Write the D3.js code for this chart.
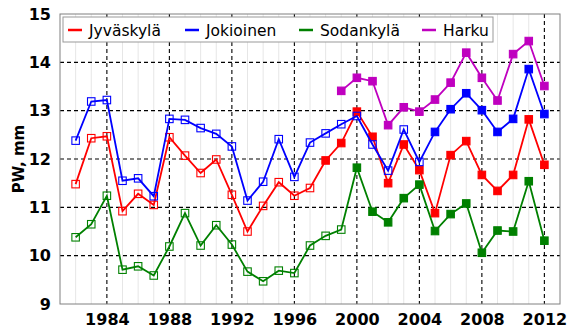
<!DOCTYPE html>
<html>
<head>
<meta charset="utf-8">
<script src="https://cdn.jsdelivr.net/npm/d3@7"></script>
<style>
  html, body { margin: 0; padding: 0; background: #fff; }
  svg { display: block; }
  text { font-family: "DejaVu Sans", sans-serif; }
</style>
</head>
<body>
<svg id="chart" width="569" height="329"></svg>
<script>
// Annual mean precipitable water (PW) per station, mm
const years = d3.range(1982, 2013);
const harkuYears = d3.range(1999, 2013);

const jyvaskyla = [11.48, 12.43, 12.47, 10.92, 11.28, 11.05, 12.45, 12.07, 11.71, 11.99,
  11.26, 10.50, 11.03, 11.52, 11.24, 11.40, 11.97, 12.33, 12.98, 12.46,
  11.50, 12.30, 11.77, 10.88, 12.08, 12.37, 11.67, 11.34, 11.67, 12.82, 11.88];
const jokioinen = [12.38, 13.19, 13.22, 11.55, 11.60, 11.23, 12.83, 12.81, 12.64, 12.52,
  12.26, 11.14, 11.53, 12.41, 11.63, 12.34, 12.53, 12.72, 12.89, 12.30,
  11.76, 12.61, 11.94, 12.56, 13.03, 13.36, 13.01, 12.56, 12.83, 13.86, 12.93];
const sodankyla = [10.38, 10.65, 11.24, 9.71, 9.78, 9.59, 10.19, 10.88, 10.21, 10.63,
  10.23, 9.67, 9.47, 9.69, 9.64, 10.21, 10.41, 10.54, 11.82, 10.91,
  10.69, 11.19, 11.47, 10.51, 10.86, 11.08, 10.06, 10.52, 10.50, 11.54, 10.31];
const harku = [13.41, 13.68, 13.61, 12.70, 13.07, 12.98, 13.23, 13.58, 14.20, 13.68,
  13.21, 14.17, 14.44, 13.51];

// First year drawn with filled markers for each station
const filledFrom = { "Jyväskylä": 1998, "Jokioinen": 2005, "Sodankylä": 2000, "Harku": 1999 };

const xTicks = [1984, 1988, 1992, 1996, 2000, 2004, 2008, 2012];
const yTicks = [9, 10, 11, 12, 13, 14, 15];

const series = [
  { name: "Jyväskylä", color: "#ff0000", x: years, y: jyvaskyla },
  { name: "Jokioinen", color: "#0000ff", x: years, y: jokioinen },
  { name: "Sodankylä", color: "#008000", x: years, y: sodankyla },
  { name: "Harku", color: "#bf00bf", x: harkuYears, y: harku }
];

const svg = d3.select("#chart");
const plotLeft = 60, plotRight = 560, plotTop = 14, plotBottom = 304;

const x = d3.scaleLinear().domain([1981, 2013]).range([plotLeft, plotRight]);
const y = d3.scaleLinear().domain([9, 15]).range([plotBottom, plotTop]);

// Minor vertical grid, one line per year
svg.append("g").selectAll("line")
  .data(d3.range(1982, 2013).filter(v => !xTicks.includes(v)))
  .join("line")
  .attr("x1", d => x(d)).attr("x2", d => x(d))
  .attr("y1", plotTop).attr("y2", plotBottom)
  .attr("stroke", "#e6e6e6").attr("stroke-width", 1);

// Major dashed grid
const grid = svg.append("g").attr("stroke", "#000").attr("stroke-width", 1.1)
  .attr("stroke-dasharray", "4,3");
grid.selectAll(".gx").data(xTicks).join("line")
  .attr("x1", d => x(d)).attr("x2", d => x(d))
  .attr("y1", plotTop).attr("y2", plotBottom);
grid.selectAll(".gy").data(yTicks.slice(1, -1)).join("line")
  .attr("x1", plotLeft).attr("x2", plotRight)
  .attr("y1", d => y(d)).attr("y2", d => y(d));

// Axes
const xAxis = d3.axisBottom(x).tickValues(xTicks).tickFormat(d3.format("d")).tickSize(0).tickPadding(10);
const yAxis = d3.axisLeft(y).tickValues(yTicks).tickFormat(d3.format("d")).tickSize(0).tickPadding(9);

const gx = svg.append("g").attr("transform", `translate(0,${plotBottom})`).call(xAxis);
const gy = svg.append("g").attr("transform", `translate(${plotLeft},0)`).call(yAxis);
[gx, gy].forEach(g => {
  g.select(".domain").remove();
  g.selectAll("text").attr("font-family", "DejaVu Sans, sans-serif")
    .attr("font-size", 16).attr("font-weight", "bold").attr("fill", "#000");
});

svg.append("text")
  .attr("transform", `translate(24,${(plotTop + plotBottom) / 2}) rotate(-90)`)
  .attr("text-anchor", "middle")
  .attr("font-size", 15).attr("font-weight", "bold")
  .text("PW, mm");

// Lines and markers
const line = d3.line();
series.forEach(s => {
  const pts = s.x.map((yr, i) => [yr, s.y[i]]);
  const g = svg.append("g");
  g.append("path")
    .attr("d", line(pts.map(p => [x(p[0]), y(p[1])])))
    .attr("fill", "none").attr("stroke", s.color).attr("stroke-width", 1.8);
  const m = 7.5;
  g.selectAll("rect").data(pts).join("rect")
    .attr("x", d => x(d[0]) - m / 2).attr("y", d => y(d[1]) - m / 2)
    .attr("width", m).attr("height", m)
    .attr("fill", d => d[0] >= filledFrom[s.name] ? s.color : "none")
    .attr("stroke", s.color).attr("stroke-width", 1.1);
});

// Frame
svg.append("rect")
  .attr("x", plotLeft).attr("y", plotTop)
  .attr("width", plotRight - plotLeft).attr("height", plotBottom - plotTop)
  .attr("fill", "none").attr("stroke", "#808080").attr("stroke-width", 1);

// Legend
const legend = svg.append("g");
legend.append("rect")
  .attr("x", 63).attr("y", 17).attr("width", 430).attr("height", 25)
  .attr("fill", "#fff").attr("stroke", "#999").attr("stroke-width", 1);
const legendX = [68, 185, 299, 422];
series.forEach((s, i) => {
  legend.append("line")
    .attr("x1", legendX[i]).attr("x2", legendX[i] + 14)
    .attr("y1", 30).attr("y2", 30)
    .attr("stroke", s.color).attr("stroke-width", 2.5);
  legend.append("text")
    .attr("x", legendX[i] + 21).attr("y", 35.5)
    .attr("font-size", 15.5).attr("fill", "#000")
    .text(s.name);
});
</script>
</body>
</html>
